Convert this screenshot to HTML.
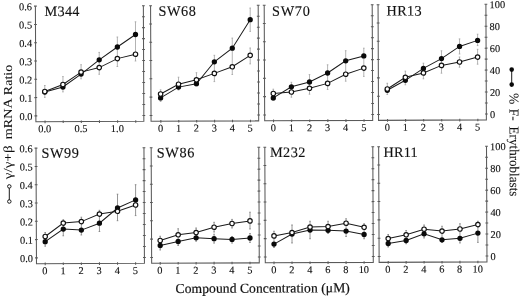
<!DOCTYPE html>
<html><head><meta charset="utf-8"><style>
html,body{margin:0;padding:0;background:#fff;}
svg{display:block;filter:grayscale(1) blur(0.4px);}
text{font-family:"Liberation Serif",serif;fill:#111;stroke:#111;stroke-width:0.25px;}
.pl{font-size:14.3px;stroke-width:0.12px;}
.tl{font-size:10.4px;stroke-width:0.12px;}
.ax{font-size:13.6px;stroke-width:0.2px;}
.ax2{font-size:12.2px;stroke-width:0.05px;}
.ax3{font-size:13.6px;stroke-width:0.08px;}
</style></head><body>
<svg width="520" height="296" viewBox="0 0 520 296">
<rect width="520" height="296" fill="#fff"/>
<g transform="rotate(-0.2406 260.0 148.0)">
<path d="M36 5.2V120.85H143.96V5.2" fill="none" stroke="#5a5a5a" stroke-width="1.05"/>
<path d="M34.6 114.95h2.8 M34.6 96.66h2.8 M34.6 78.37h2.8 M34.6 60.08h2.8 M34.6 41.78h2.8 M34.6 23.49h2.8 M34.6 5.2h2.8 M142.56 114.95h2.8 M142.56 103.98h2.8 M142.56 93h2.8 M142.56 82.03h2.8 M142.56 71.05h2.8 M142.56 60.08h2.8 M142.56 49.1h2.8 M142.56 38.12h2.8 M142.56 27.15h2.8 M142.56 16.17h2.8 M142.56 5.2h2.8 M45.17 119.65v2.6 M63.31 119.65v2.6 M81.45 119.65v2.6 M99.59 119.65v2.6 M117.73 119.65v2.6 M135.87 119.65v2.6" stroke="#5a5a5a" stroke-width="1.05"/>
<path d="M45.06 84.6L45.01 96.5M44.26 84.6h1.6M44.21 96.5h1.6M63.24 75.77L63.18 91.07M62.44 75.77h1.6M62.38 91.07h1.6M81.43 63.95L81.37 78.05M80.63 63.95h1.6M80.57 78.05h1.6M99.62 51.72L99.53 73.62M98.82 51.72h1.6M98.73 73.62h1.6M117.83 36.4L117.7 65.9M117.03 36.4h1.6M116.9 65.9h1.6M136.03 21.28L135.87 60.48M135.23 21.28h1.6M135.07 60.48h1.6" stroke="#a0a0a0" stroke-width="0.8" fill="none"/>
<polyline points="45.03,91.2 63.2,86.17 81.39,73.35 99.59,59.12 117.78,46.4 135.98,33.98" fill="none" stroke="#1a1a1a" stroke-width="1.0"/>
<polyline points="45.04,90.6 63.21,83.67 81.4,71.35 99.56,66.92 117.74,58 135.89,53.68" fill="none" stroke="#1a1a1a" stroke-width="1.0"/>
<circle cx="45.03" cy="91.2" r="2.65" fill="#0a0a0a"/>
<circle cx="63.2" cy="86.17" r="2.65" fill="#0a0a0a"/>
<circle cx="81.39" cy="73.35" r="2.65" fill="#0a0a0a"/>
<circle cx="99.59" cy="59.12" r="2.65" fill="#0a0a0a"/>
<circle cx="117.78" cy="46.4" r="2.65" fill="#0a0a0a"/>
<circle cx="135.98" cy="33.98" r="2.65" fill="#0a0a0a"/>
<circle cx="45.04" cy="90.6" r="2.22" fill="#fff" stroke="#111" stroke-width="1.15"/>
<circle cx="63.21" cy="83.67" r="2.22" fill="#fff" stroke="#111" stroke-width="1.15"/>
<circle cx="81.4" cy="71.35" r="2.22" fill="#fff" stroke="#111" stroke-width="1.15"/>
<circle cx="99.56" cy="66.92" r="2.22" fill="#fff" stroke="#111" stroke-width="1.15"/>
<circle cx="117.74" cy="58" r="2.22" fill="#fff" stroke="#111" stroke-width="1.15"/>
<circle cx="135.89" cy="53.68" r="2.22" fill="#fff" stroke="#111" stroke-width="1.15"/>
<text x="45.05" y="15.1" class="pl" textLength="34.96" lengthAdjust="spacing">M344</text>
<text x="44.87" y="131.35" class="tl" text-anchor="middle">0.0</text>
<text x="81.15" y="131.35" class="tl" text-anchor="middle">0.5</text>
<text x="117.43" y="131.35" class="tl" text-anchor="middle">1.0</text>
<text x="32.6" y="119.05" class="tl" text-anchor="end">0.0</text>
<text x="32.6" y="100.76" class="tl" text-anchor="end">0.1</text>
<text x="32.6" y="82.47" class="tl" text-anchor="end">0.2</text>
<text x="32.6" y="64.17" class="tl" text-anchor="end">0.3</text>
<text x="32.6" y="45.88" class="tl" text-anchor="end">0.4</text>
<text x="32.6" y="27.59" class="tl" text-anchor="end">0.5</text>
<text x="32.6" y="9.3" class="tl" text-anchor="end">0.6</text>
<path d="M151.17 5.2V120.85H258.8V5.2" fill="none" stroke="#5a5a5a" stroke-width="1.05"/>
<path d="M149.77 114.95h2.8 M149.77 96.66h2.8 M149.77 78.37h2.8 M149.77 60.08h2.8 M149.77 41.78h2.8 M149.77 23.49h2.8 M149.77 5.2h2.8 M257.4 114.95h2.8 M257.4 103.98h2.8 M257.4 93h2.8 M257.4 82.03h2.8 M257.4 71.05h2.8 M257.4 60.08h2.8 M257.4 49.1h2.8 M257.4 38.12h2.8 M257.4 27.15h2.8 M257.4 16.17h2.8 M257.4 5.2h2.8 M160.97 119.65v2.6 M178.89 119.65v2.6 M196.81 119.65v2.6 M214.73 119.65v2.6 M232.65 119.65v2.6 M250.57 119.65v2.6" stroke="#5a5a5a" stroke-width="1.05"/>
<path d="M160.84 89.38L160.8 101.08M160.04 89.38h1.6M160 101.08h1.6M178.82 76.86L178.76 89.66M178.02 76.86h1.6M177.96 89.66h1.6M196.76 72.43L196.7 85.73M195.96 72.43h1.6M195.9 85.73h1.6M214.75 55.11L214.64 81.41M213.95 55.11h1.6M213.84 81.41h1.6M232.74 37.98L232.59 74.38M231.94 37.98h1.6M231.79 74.38h1.6M250.79 8.01L250.69 31.36M249.99 8.01h1.6M249.89 31.36h1.6M250.62 47.96L250.55 63.86M249.82 47.96h1.6M249.75 63.86h1.6" stroke="#a0a0a0" stroke-width="0.8" fill="none"/>
<polyline points="160.81,97.48 178.78,86.76 196.71,83.43 214.72,61.61 232.7,48.08 250.74,19.66" fill="none" stroke="#1a1a1a" stroke-width="1.0"/>
<polyline points="160.83,93.58 178.79,83.86 196.73,79.53 214.67,73.21 232.62,66.68 250.59,55.26" fill="none" stroke="#1a1a1a" stroke-width="1.0"/>
<circle cx="160.81" cy="97.48" r="2.65" fill="#0a0a0a"/>
<circle cx="178.78" cy="86.76" r="2.65" fill="#0a0a0a"/>
<circle cx="196.71" cy="83.43" r="2.65" fill="#0a0a0a"/>
<circle cx="214.72" cy="61.61" r="2.65" fill="#0a0a0a"/>
<circle cx="232.7" cy="48.08" r="2.65" fill="#0a0a0a"/>
<circle cx="250.74" cy="19.66" r="2.65" fill="#0a0a0a"/>
<circle cx="160.83" cy="93.58" r="2.22" fill="#fff" stroke="#111" stroke-width="1.15"/>
<circle cx="178.79" cy="83.86" r="2.22" fill="#fff" stroke="#111" stroke-width="1.15"/>
<circle cx="196.73" cy="79.53" r="2.22" fill="#fff" stroke="#111" stroke-width="1.15"/>
<circle cx="214.67" cy="73.21" r="2.22" fill="#fff" stroke="#111" stroke-width="1.15"/>
<circle cx="232.62" cy="66.68" r="2.22" fill="#fff" stroke="#111" stroke-width="1.15"/>
<circle cx="250.59" cy="55.26" r="2.22" fill="#fff" stroke="#111" stroke-width="1.15"/>
<text x="159.16" y="15.38" class="pl" textLength="37.35" lengthAdjust="spacing">SW68</text>
<text x="160.67" y="131.35" class="tl" text-anchor="middle">0</text>
<text x="178.59" y="131.35" class="tl" text-anchor="middle">1</text>
<text x="196.51" y="131.35" class="tl" text-anchor="middle">2</text>
<text x="214.43" y="131.35" class="tl" text-anchor="middle">3</text>
<text x="232.35" y="131.35" class="tl" text-anchor="middle">4</text>
<text x="250.27" y="131.35" class="tl" text-anchor="middle">5</text>
<path d="M264.8 5.2V120.85H372.8V5.2" fill="none" stroke="#5a5a5a" stroke-width="1.05"/>
<path d="M263.4 114.95h2.8 M263.4 96.66h2.8 M263.4 78.37h2.8 M263.4 60.08h2.8 M263.4 41.78h2.8 M263.4 23.49h2.8 M263.4 5.2h2.8 M371.4 114.95h2.8 M371.4 103.98h2.8 M371.4 93h2.8 M371.4 82.03h2.8 M371.4 71.05h2.8 M371.4 60.08h2.8 M371.4 49.1h2.8 M371.4 38.12h2.8 M371.4 27.15h2.8 M371.4 16.17h2.8 M371.4 5.2h2.8 M273.67 119.65v2.6 M291.77 119.65v2.6 M309.87 119.65v2.6 M327.97 119.65v2.6 M346.07 119.65v2.6 M364.17 119.65v2.6" stroke="#5a5a5a" stroke-width="1.05"/>
<path d="M273.55 89.26L273.5 100.46M272.75 89.26h1.6M272.7 100.46h1.6M291.68 82.43L291.61 97.33M290.88 82.43h1.6M290.81 97.33h1.6M309.81 74.81L309.73 94.41M309.01 74.81h1.6M308.93 94.41h1.6M327.95 65.08L327.85 89.78M327.15 65.08h1.6M327.05 89.78h1.6M346.11 51.06L345.98 81.56M345.31 51.06h1.6M345.18 81.56h1.6M364.22 48.64L364.1 76.84M363.42 48.64h1.6M363.3 76.84h1.6" stroke="#a0a0a0" stroke-width="0.8" fill="none"/>
<polyline points="273.51,97.96 291.66,86.93 309.78,82.21 327.92,73.28 346.07,61.16 364.19,56.34" fill="none" stroke="#1a1a1a" stroke-width="1.0"/>
<polyline points="273.53,93.56 291.64,92.13 309.75,88.51 327.87,83.68 346.01,74.56 364.14,68.54" fill="none" stroke="#1a1a1a" stroke-width="1.0"/>
<circle cx="273.51" cy="97.96" r="2.65" fill="#0a0a0a"/>
<circle cx="291.66" cy="86.93" r="2.65" fill="#0a0a0a"/>
<circle cx="309.78" cy="82.21" r="2.65" fill="#0a0a0a"/>
<circle cx="327.92" cy="73.28" r="2.65" fill="#0a0a0a"/>
<circle cx="346.07" cy="61.16" r="2.65" fill="#0a0a0a"/>
<circle cx="364.19" cy="56.34" r="2.65" fill="#0a0a0a"/>
<circle cx="273.53" cy="93.56" r="2.22" fill="#fff" stroke="#111" stroke-width="1.15"/>
<circle cx="291.64" cy="92.13" r="2.22" fill="#fff" stroke="#111" stroke-width="1.15"/>
<circle cx="309.75" cy="88.51" r="2.22" fill="#fff" stroke="#111" stroke-width="1.15"/>
<circle cx="327.87" cy="83.68" r="2.22" fill="#fff" stroke="#111" stroke-width="1.15"/>
<circle cx="346.01" cy="74.56" r="2.22" fill="#fff" stroke="#111" stroke-width="1.15"/>
<circle cx="364.14" cy="68.54" r="2.22" fill="#fff" stroke="#111" stroke-width="1.15"/>
<text x="272.56" y="15.85" class="pl" textLength="37.85" lengthAdjust="spacing">SW70</text>
<text x="273.37" y="131.35" class="tl" text-anchor="middle">0</text>
<text x="291.47" y="131.35" class="tl" text-anchor="middle">1</text>
<text x="309.57" y="131.35" class="tl" text-anchor="middle">2</text>
<text x="327.67" y="131.35" class="tl" text-anchor="middle">3</text>
<text x="345.77" y="131.35" class="tl" text-anchor="middle">4</text>
<text x="363.87" y="131.35" class="tl" text-anchor="middle">5</text>
<path d="M378.65 5.2V120.85H486.5V5.2" fill="none" stroke="#5a5a5a" stroke-width="1.05"/>
<path d="M377.25 114.95h2.8 M377.25 96.66h2.8 M377.25 78.37h2.8 M377.25 60.08h2.8 M377.25 41.78h2.8 M377.25 23.49h2.8 M377.25 5.2h2.8 M485.1 114.95h2.8 M485.1 103.98h2.8 M485.1 93h2.8 M485.1 82.03h2.8 M485.1 71.05h2.8 M485.1 60.08h2.8 M485.1 49.1h2.8 M485.1 38.12h2.8 M485.1 27.15h2.8 M485.1 16.17h2.8 M485.1 5.2h2.8 M387.67 119.65v2.6 M405.73 119.65v2.6 M423.79 119.65v2.6 M441.85 119.65v2.6 M459.91 119.65v2.6 M477.97 119.65v2.6" stroke="#5a5a5a" stroke-width="1.05"/>
<path d="M387.57 83.83L387.52 95.03M386.77 83.83h1.6M386.72 95.03h1.6M405.68 71.71L405.63 85.41M404.88 71.71h1.6M404.83 85.41h1.6M423.78 63.89L423.71 79.49M422.98 63.89h1.6M422.91 79.49h1.6M441.89 51.56L441.79 73.96M441.09 51.56h1.6M440.99 73.96h1.6M460 39.74L459.93 54.84M459.2 39.74h1.6M459.13 54.84h1.6M459.92 57.84L459.88 68.04M459.12 57.84h1.6M459.08 68.04h1.6M478.08 35.11L478.03 46.51M477.28 35.11h1.6M477.23 46.51h1.6M478.01 50.21L477.95 65.11M477.21 50.21h1.6M477.15 65.11h1.6" stroke="#a0a0a0" stroke-width="0.8" fill="none"/>
<polyline points="387.54,90.83 405.64,80.91 423.75,69.09 441.86,59.36 459.97,47.24 478.05,41.31" fill="none" stroke="#1a1a1a" stroke-width="1.0"/>
<polyline points="387.55,89.53 405.66,77.91 423.74,73.59 441.83,66.16 459.9,62.84 477.98,58.01" fill="none" stroke="#1a1a1a" stroke-width="1.0"/>
<circle cx="387.54" cy="90.83" r="2.65" fill="#0a0a0a"/>
<circle cx="405.64" cy="80.91" r="2.65" fill="#0a0a0a"/>
<circle cx="423.75" cy="69.09" r="2.65" fill="#0a0a0a"/>
<circle cx="441.86" cy="59.36" r="2.65" fill="#0a0a0a"/>
<circle cx="459.97" cy="47.24" r="2.65" fill="#0a0a0a"/>
<circle cx="478.05" cy="41.31" r="2.65" fill="#0a0a0a"/>
<circle cx="387.55" cy="89.53" r="2.22" fill="#fff" stroke="#111" stroke-width="1.15"/>
<circle cx="405.66" cy="77.91" r="2.22" fill="#fff" stroke="#111" stroke-width="1.15"/>
<circle cx="423.74" cy="73.59" r="2.22" fill="#fff" stroke="#111" stroke-width="1.15"/>
<circle cx="441.83" cy="66.16" r="2.22" fill="#fff" stroke="#111" stroke-width="1.15"/>
<circle cx="459.9" cy="62.84" r="2.22" fill="#fff" stroke="#111" stroke-width="1.15"/>
<circle cx="477.98" cy="58.01" r="2.22" fill="#fff" stroke="#111" stroke-width="1.15"/>
<text x="387.16" y="16.04" class="pl" textLength="35.16" lengthAdjust="spacing">HR13</text>
<text x="387.37" y="131.35" class="tl" text-anchor="middle">0</text>
<text x="405.43" y="131.35" class="tl" text-anchor="middle">1</text>
<text x="423.49" y="131.35" class="tl" text-anchor="middle">2</text>
<text x="441.55" y="131.35" class="tl" text-anchor="middle">3</text>
<text x="459.61" y="131.35" class="tl" text-anchor="middle">4</text>
<text x="477.67" y="131.35" class="tl" text-anchor="middle">5</text>
<text x="490.1" y="118.85" class="tl">0</text>
<text x="490.1" y="96.9" class="tl">20</text>
<text x="490.1" y="74.95" class="tl">40</text>
<text x="490.1" y="53" class="tl">60</text>
<text x="490.1" y="31.05" class="tl">80</text>
<text x="490.1" y="9.1" class="tl">100</text>
<path d="M36 147.2V262.85H143.96V147.2" fill="none" stroke="#5a5a5a" stroke-width="1.05"/>
<path d="M34.6 256.95h2.8 M34.6 238.66h2.8 M34.6 220.37h2.8 M34.6 202.07h2.8 M34.6 183.78h2.8 M34.6 165.49h2.8 M34.6 147.2h2.8 M142.56 256.95h2.8 M142.56 245.98h2.8 M142.56 235h2.8 M142.56 224.03h2.8 M142.56 213.05h2.8 M142.56 202.07h2.8 M142.56 191.1h2.8 M142.56 180.12h2.8 M142.56 169.15h2.8 M142.56 158.18h2.8 M142.56 147.2h2.8 M44.73 261.65v2.6 M62.81 261.65v2.6 M80.89 261.65v2.6 M98.97 261.65v2.6 M117.05 261.65v2.6 M135.13 261.65v2.6" stroke="#5a5a5a" stroke-width="1.05"/>
<path d="M44.85 231.6L44.79 245.3M44.05 231.6h1.6M43.99 245.3h1.6M62.98 218.87L62.91 234.97M62.18 218.87h1.6M62.11 234.97h1.6M81.07 216.45L80.99 234.25M80.27 216.45h1.6M80.19 234.25h1.6M99.18 209.63L99.09 230.83M98.38 209.63h1.6M98.29 230.83h1.6M117.33 193.6L117.21 220.1M116.53 193.6h1.6M116.41 220.1h1.6M135.45 184.18L135.32 215.08M134.65 184.18h1.6M134.52 215.08h1.6" stroke="#7a7a7a" stroke-width="0.8" fill="none"/>
<polyline points="44.81,240.8 62.94,228.27 81.02,229.35 99.12,222.53 117.27,207.4 135.38,199.38" fill="none" stroke="#1a1a1a" stroke-width="1.0"/>
<polyline points="44.83,235.6 62.96,222.27 81.05,220.85 99.16,213.43 117.25,210.7 135.36,204.48" fill="none" stroke="#1a1a1a" stroke-width="1.0"/>
<circle cx="44.81" cy="240.8" r="2.65" fill="#0a0a0a"/>
<circle cx="62.94" cy="228.27" r="2.65" fill="#0a0a0a"/>
<circle cx="81.02" cy="229.35" r="2.65" fill="#0a0a0a"/>
<circle cx="99.12" cy="222.53" r="2.65" fill="#0a0a0a"/>
<circle cx="117.27" cy="207.4" r="2.65" fill="#0a0a0a"/>
<circle cx="135.38" cy="199.38" r="2.65" fill="#0a0a0a"/>
<circle cx="44.83" cy="235.6" r="2.22" fill="#fff" stroke="#111" stroke-width="1.15"/>
<circle cx="62.96" cy="222.27" r="2.22" fill="#fff" stroke="#111" stroke-width="1.15"/>
<circle cx="81.05" cy="220.85" r="2.22" fill="#fff" stroke="#111" stroke-width="1.15"/>
<circle cx="99.16" cy="213.43" r="2.22" fill="#fff" stroke="#111" stroke-width="1.15"/>
<circle cx="117.25" cy="210.7" r="2.22" fill="#fff" stroke="#111" stroke-width="1.15"/>
<circle cx="135.36" cy="204.48" r="2.22" fill="#fff" stroke="#111" stroke-width="1.15"/>
<text x="41.56" y="156.79" class="pl" textLength="37.25" lengthAdjust="spacing">SW99</text>
<text x="44.43" y="273.35" class="tl" text-anchor="middle">0</text>
<text x="62.51" y="273.35" class="tl" text-anchor="middle">1</text>
<text x="80.59" y="273.35" class="tl" text-anchor="middle">2</text>
<text x="98.67" y="273.35" class="tl" text-anchor="middle">3</text>
<text x="116.75" y="273.35" class="tl" text-anchor="middle">4</text>
<text x="134.83" y="273.35" class="tl" text-anchor="middle">5</text>
<text x="32.6" y="261.05" class="tl" text-anchor="end">0.0</text>
<text x="32.6" y="242.76" class="tl" text-anchor="end">0.1</text>
<text x="32.6" y="224.47" class="tl" text-anchor="end">0.2</text>
<text x="32.6" y="206.17" class="tl" text-anchor="end">0.3</text>
<text x="32.6" y="187.88" class="tl" text-anchor="end">0.4</text>
<text x="32.6" y="169.59" class="tl" text-anchor="end">0.5</text>
<text x="32.6" y="151.3" class="tl" text-anchor="end">0.6</text>
<path d="M151.17 147.2V262.85H258.8V147.2" fill="none" stroke="#5a5a5a" stroke-width="1.05"/>
<path d="M149.77 256.95h2.8 M149.77 238.66h2.8 M149.77 220.37h2.8 M149.77 202.07h2.8 M149.77 183.78h2.8 M149.77 165.49h2.8 M149.77 147.2h2.8 M257.4 256.95h2.8 M257.4 245.98h2.8 M257.4 235h2.8 M257.4 224.03h2.8 M257.4 213.05h2.8 M257.4 202.07h2.8 M257.4 191.1h2.8 M257.4 180.12h2.8 M257.4 169.15h2.8 M257.4 158.18h2.8 M257.4 147.2h2.8 M159.73 261.65v2.6 M177.69 261.65v2.6 M195.65 261.65v2.6 M213.61 261.65v2.6 M231.57 261.65v2.6 M249.53 261.65v2.6" stroke="#5a5a5a" stroke-width="1.05"/>
<path d="M159.83 235.83L159.77 249.58M159.03 235.83h1.6M158.97 249.58h1.6M177.82 228.41L177.75 245.16M177.02 228.41h1.6M176.95 245.16h1.6M195.78 227.73L195.73 240.98M194.98 227.73h1.6M194.93 240.98h1.6M213.77 222.11L213.73 231.81M212.97 222.11h1.6M212.93 231.81h1.6M213.72 234.01L213.68 242.91M212.92 234.01h1.6M212.88 242.91h1.6M231.74 219.28L231.7 227.88M230.94 219.28h1.6M230.9 227.88h1.6M231.67 236.38L231.64 242.98M230.87 236.38h1.6M230.84 242.98h1.6M249.73 212.16L249.66 228.96M248.93 212.16h1.6M248.86 228.96h1.6M249.64 233.46L249.6 242.46M248.84 233.46h1.6M248.8 242.46h1.6" stroke="#7a7a7a" stroke-width="0.8" fill="none"/>
<polyline points="159.79,245.08 177.77,241.16 195.74,237.53 213.7,238.51 231.66,239.28 249.62,237.96" fill="none" stroke="#1a1a1a" stroke-width="1.0"/>
<polyline points="159.81,240.08 177.8,234.46 195.76,232.33 213.75,227.01 231.72,223.38 249.69,220.86" fill="none" stroke="#1a1a1a" stroke-width="1.0"/>
<circle cx="159.79" cy="245.08" r="2.65" fill="#0a0a0a"/>
<circle cx="177.77" cy="241.16" r="2.65" fill="#0a0a0a"/>
<circle cx="195.74" cy="237.53" r="2.65" fill="#0a0a0a"/>
<circle cx="213.7" cy="238.51" r="2.65" fill="#0a0a0a"/>
<circle cx="231.66" cy="239.28" r="2.65" fill="#0a0a0a"/>
<circle cx="249.62" cy="237.96" r="2.65" fill="#0a0a0a"/>
<circle cx="159.81" cy="240.08" r="2.22" fill="#fff" stroke="#111" stroke-width="1.15"/>
<circle cx="177.8" cy="234.46" r="2.22" fill="#fff" stroke="#111" stroke-width="1.15"/>
<circle cx="195.76" cy="232.33" r="2.22" fill="#fff" stroke="#111" stroke-width="1.15"/>
<circle cx="213.75" cy="227.01" r="2.22" fill="#fff" stroke="#111" stroke-width="1.15"/>
<circle cx="231.72" cy="223.38" r="2.22" fill="#fff" stroke="#111" stroke-width="1.15"/>
<circle cx="249.69" cy="220.86" r="2.22" fill="#fff" stroke="#111" stroke-width="1.15"/>
<text x="156.76" y="156.97" class="pl" textLength="37.65" lengthAdjust="spacing">SW86</text>
<text x="159.43" y="273.35" class="tl" text-anchor="middle">0</text>
<text x="177.39" y="273.35" class="tl" text-anchor="middle">1</text>
<text x="195.35" y="273.35" class="tl" text-anchor="middle">2</text>
<text x="213.31" y="273.35" class="tl" text-anchor="middle">3</text>
<text x="231.27" y="273.35" class="tl" text-anchor="middle">4</text>
<text x="249.23" y="273.35" class="tl" text-anchor="middle">5</text>
<path d="M264.8 147.2V262.85H372.8V147.2" fill="none" stroke="#5a5a5a" stroke-width="1.05"/>
<path d="M263.4 256.95h2.8 M263.4 238.66h2.8 M263.4 220.37h2.8 M263.4 202.07h2.8 M263.4 183.78h2.8 M263.4 165.49h2.8 M263.4 147.2h2.8 M371.4 256.95h2.8 M371.4 245.98h2.8 M371.4 235h2.8 M371.4 224.03h2.8 M371.4 213.05h2.8 M371.4 202.07h2.8 M371.4 191.1h2.8 M371.4 180.12h2.8 M371.4 169.15h2.8 M371.4 158.18h2.8 M371.4 147.2h2.8 M273.53 261.65v2.6 M291.55 261.65v2.6 M309.57 261.65v2.6 M327.59 261.65v2.6 M345.61 261.65v2.6 M363.63 261.65v2.6" stroke="#5a5a5a" stroke-width="1.05"/>
<path d="M273.65 231.31L273.58 247.56M272.85 231.31h1.6M272.78 247.56h1.6M291.7 225.13L291.62 243.13M290.9 225.13h1.6M290.82 243.13h1.6M309.73 221.46L309.66 238.96M308.93 221.46h1.6M308.86 238.96h1.6M327.75 221.54L327.7 233.79M326.95 221.54h1.6M326.9 233.79h1.6M345.78 219.11L345.71 236.86M344.98 219.11h1.6M344.91 236.86h1.6M363.78 224.19L363.72 239.19M362.98 224.19h1.6M362.92 239.19h1.6" stroke="#7a7a7a" stroke-width="0.8" fill="none"/>
<polyline points="273.6,244.16 291.66,234.23 309.7,230.31 327.71,230.59 345.73,231.46 363.74,234.94" fill="none" stroke="#1a1a1a" stroke-width="1.0"/>
<polyline points="273.63,235.96 291.66,232.73 309.71,227.31 327.73,226.89 345.76,223.56 363.77,227.74" fill="none" stroke="#1a1a1a" stroke-width="1.0"/>
<circle cx="273.6" cy="244.16" r="2.65" fill="#0a0a0a"/>
<circle cx="291.66" cy="234.23" r="2.65" fill="#0a0a0a"/>
<circle cx="309.7" cy="230.31" r="2.65" fill="#0a0a0a"/>
<circle cx="327.71" cy="230.59" r="2.65" fill="#0a0a0a"/>
<circle cx="345.73" cy="231.46" r="2.65" fill="#0a0a0a"/>
<circle cx="363.74" cy="234.94" r="2.65" fill="#0a0a0a"/>
<circle cx="273.63" cy="235.96" r="2.22" fill="#fff" stroke="#111" stroke-width="1.15"/>
<circle cx="291.66" cy="232.73" r="2.22" fill="#fff" stroke="#111" stroke-width="1.15"/>
<circle cx="309.71" cy="227.31" r="2.22" fill="#fff" stroke="#111" stroke-width="1.15"/>
<circle cx="327.73" cy="226.89" r="2.22" fill="#fff" stroke="#111" stroke-width="1.15"/>
<circle cx="345.76" cy="223.56" r="2.22" fill="#fff" stroke="#111" stroke-width="1.15"/>
<circle cx="363.77" cy="227.74" r="2.22" fill="#fff" stroke="#111" stroke-width="1.15"/>
<text x="269.96" y="157.15" class="pl" textLength="35.36" lengthAdjust="spacing">M232</text>
<text x="273.23" y="273.35" class="tl" text-anchor="middle">0</text>
<text x="291.25" y="273.35" class="tl" text-anchor="middle">2</text>
<text x="309.27" y="273.35" class="tl" text-anchor="middle">4</text>
<text x="327.29" y="273.35" class="tl" text-anchor="middle">6</text>
<text x="345.31" y="273.35" class="tl" text-anchor="middle">8</text>
<text x="363.33" y="273.35" class="tl" text-anchor="middle">10</text>
<path d="M378.65 147.2V262.85H486.5V147.2" fill="none" stroke="#5a5a5a" stroke-width="1.05"/>
<path d="M377.25 256.95h2.8 M377.25 238.66h2.8 M377.25 220.37h2.8 M377.25 202.07h2.8 M377.25 183.78h2.8 M377.25 165.49h2.8 M377.25 147.2h2.8 M485.1 256.95h2.8 M485.1 245.98h2.8 M485.1 235h2.8 M485.1 224.03h2.8 M485.1 213.05h2.8 M485.1 202.07h2.8 M485.1 191.1h2.8 M485.1 180.12h2.8 M485.1 169.15h2.8 M485.1 158.18h2.8 M485.1 147.2h2.8 M387.73 261.65v2.6 M405.67 261.65v2.6 M423.61 261.65v2.6 M441.55 261.65v2.6 M459.49 261.65v2.6 M477.43 261.65v2.6" stroke="#5a5a5a" stroke-width="1.05"/>
<path d="M387.84 235.04L387.78 247.54M387.04 235.04h1.6M386.98 247.54h1.6M405.79 231.11L405.74 244.36M404.99 231.11h1.6M404.94 244.36h1.6M423.76 225.69L423.7 238.69M422.96 225.69h1.6M422.9 238.69h1.6M441.69 227.01L441.62 243.26M440.89 227.01h1.6M440.82 243.26h1.6M459.64 224.59L459.56 243.84M458.84 224.59h1.6M458.76 243.84h1.6M477.59 222.17L477.5 243.32M476.79 222.17h1.6M476.7 243.32h1.6" stroke="#7a7a7a" stroke-width="0.8" fill="none"/>
<polyline points="387.8,244.04 405.75,241.11 423.72,234.49 441.63,240.56 459.58,239.14 477.54,234.02" fill="none" stroke="#1a1a1a" stroke-width="1.0"/>
<polyline points="387.82,239.14 405.78,235.41 423.74,229.89 441.67,231.86 459.62,229.84 477.58,225.52" fill="none" stroke="#1a1a1a" stroke-width="1.0"/>
<circle cx="387.8" cy="244.04" r="2.65" fill="#0a0a0a"/>
<circle cx="405.75" cy="241.11" r="2.65" fill="#0a0a0a"/>
<circle cx="423.72" cy="234.49" r="2.65" fill="#0a0a0a"/>
<circle cx="441.63" cy="240.56" r="2.65" fill="#0a0a0a"/>
<circle cx="459.58" cy="239.14" r="2.65" fill="#0a0a0a"/>
<circle cx="477.54" cy="234.02" r="2.65" fill="#0a0a0a"/>
<circle cx="387.82" cy="239.14" r="2.22" fill="#fff" stroke="#111" stroke-width="1.15"/>
<circle cx="405.78" cy="235.41" r="2.22" fill="#fff" stroke="#111" stroke-width="1.15"/>
<circle cx="423.74" cy="229.89" r="2.22" fill="#fff" stroke="#111" stroke-width="1.15"/>
<circle cx="441.67" cy="231.86" r="2.22" fill="#fff" stroke="#111" stroke-width="1.15"/>
<circle cx="459.62" cy="229.84" r="2.22" fill="#fff" stroke="#111" stroke-width="1.15"/>
<circle cx="477.58" cy="225.52" r="2.22" fill="#fff" stroke="#111" stroke-width="1.15"/>
<text x="383.56" y="157.52" class="pl" textLength="34.16" lengthAdjust="spacing">HR11</text>
<text x="387.43" y="273.35" class="tl" text-anchor="middle">0</text>
<text x="405.37" y="273.35" class="tl" text-anchor="middle">2</text>
<text x="423.31" y="273.35" class="tl" text-anchor="middle">4</text>
<text x="441.25" y="273.35" class="tl" text-anchor="middle">6</text>
<text x="459.19" y="273.35" class="tl" text-anchor="middle">8</text>
<text x="477.13" y="273.35" class="tl" text-anchor="middle">10</text>
<text x="490.1" y="260.85" class="tl">0</text>
<text x="490.1" y="238.9" class="tl">20</text>
<text x="490.1" y="216.95" class="tl">40</text>
<text x="490.1" y="195" class="tl">60</text>
<text x="490.1" y="173.05" class="tl">80</text>
<text x="490.1" y="151.1" class="tl">100</text>

<text x="174.99" y="292.65" class="ax" textLength="174.3" lengthAdjust="spacing">Compound Concentration (&#956;M)</text>
<text transform="translate(11.87,178.16) rotate(-90)" x="0" y="0" textLength="33.8" lengthAdjust="spacingAndGlyphs" class="ax2">&#947;/&#947;+&#946;</text>
<text transform="translate(12.04,138.16) rotate(-90)" x="0" y="0" textLength="41" lengthAdjust="spacingAndGlyphs" class="ax2">mRNA</text>
<text transform="translate(12.22,94.16) rotate(-90)" x="0" y="0" textLength="30.5" lengthAdjust="spacingAndGlyphs" class="ax2">Ratio</text>

<path d="M9.14 185.35L9.08 200.45" stroke="#1a1a1a" stroke-width="1.0"/>
<circle cx="9.14" cy="185.35" r="1.75" fill="#fff" stroke="#111" stroke-width="0.95"/>
<circle cx="9.08" cy="200.45" r="1.75" fill="#fff" stroke="#111" stroke-width="0.95"/>
<text transform="translate(509.83,93.95) rotate(90)" class="ax3">%</text>
<text transform="translate(509.77,109.75) rotate(90)" class="ax3">F-</text>
<text transform="translate(509.69,127.65) rotate(90)" class="ax3" textLength="69.8" lengthAdjust="spacingAndGlyphs">Erythroblasts</text>
<path d="M512.03 70.66L511.97 85.66" stroke="#1a1a1a" stroke-width="1.0"/>
<circle cx="512.03" cy="70.66" r="2.3" fill="#0a0a0a"/>
<circle cx="511.97" cy="85.66" r="2.3" fill="#0a0a0a"/>

</g>
</svg>
</body></html>
